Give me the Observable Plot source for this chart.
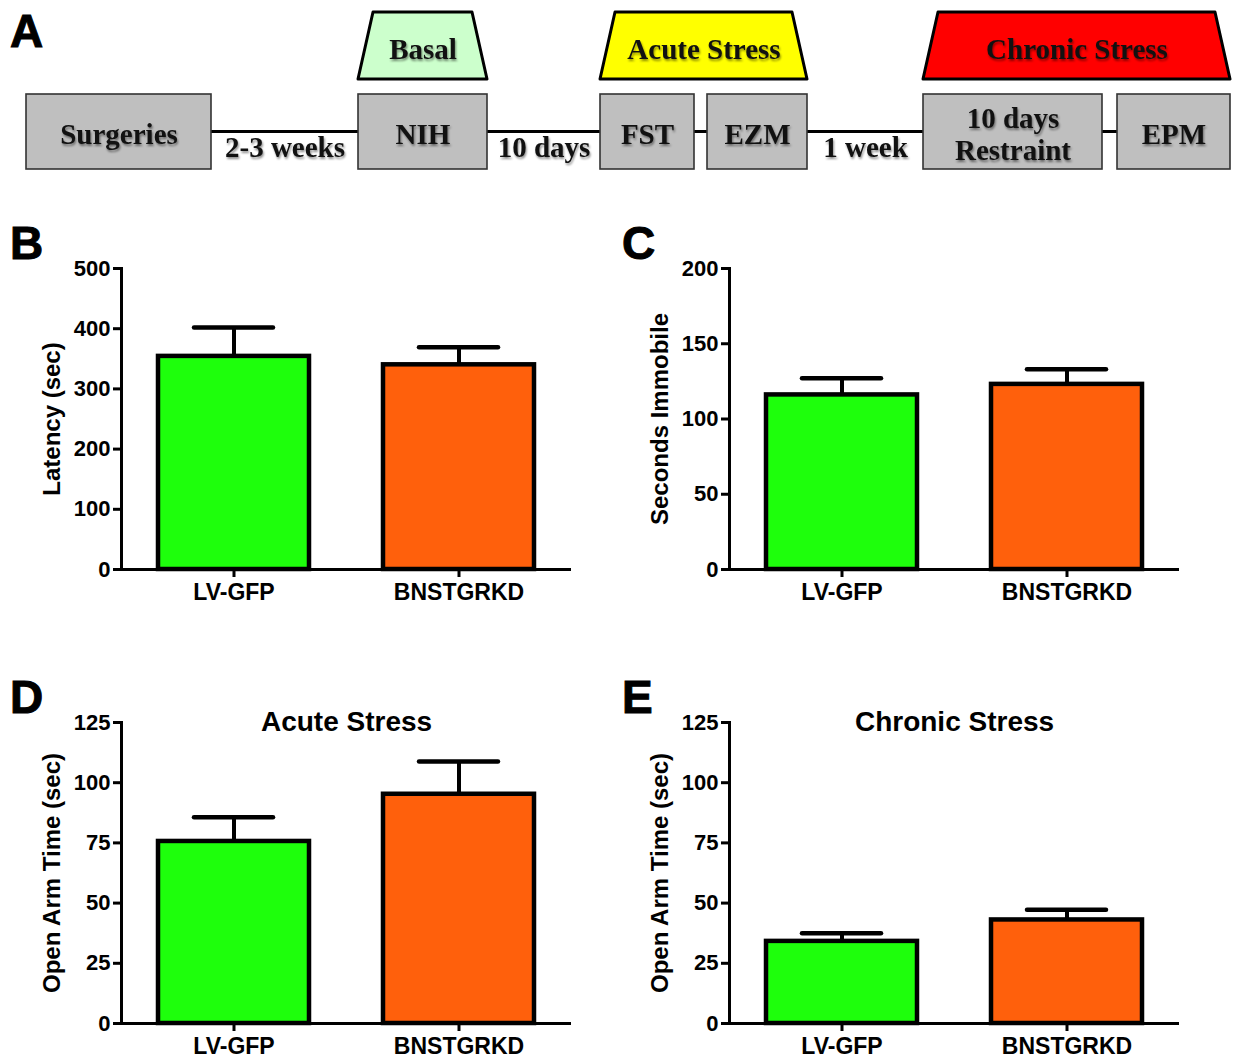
<!DOCTYPE html>
<html><head><meta charset="utf-8">
<script src="https://cdn.jsdelivr.net/npm/d3@7"></script>
<script src="https://cdn.jsdelivr.net/npm/@observablehq/plot@0.6"></script>
<style>
html,body{margin:0;padding:0;background:#fff;}
#root{position:relative;width:1238px;height:1059px;overflow:hidden;}
.panel{position:absolute;}
.letter{position:absolute;font:bold 46px/1 "Liberation Sans",Arial,sans-serif;color:#000;-webkit-text-stroke:1px #000;}
#panelA text{filter:drop-shadow(1.5px 2px 1.2px rgba(0,0,0,0.45));}
</style></head><body><div id="root"></div>
<script>
// ---------- Panel A: experimental timeline (timeline coordinates) ----------
const stageNames = ["Surgeries", "NIH", "FST", "EZM", "10 days\nRestraint", "EPM"];
const stageStart = [26, 358, 600, 707, 923, 1117];
const stageEnd   = [211, 487, 694, 807, 1102, 1230];
const gapLabels  = ["2-3 weeks", "10 days", "", "1 week", ""];
const phaseNames = ["Basal", "Acute Stress", "Chronic Stress"];
const phaseFirstStage = [1, 2, 4];
const phaseLastStage  = [1, 3, 5];

// ---------- Panels B–E ----------
const groups = ["LV-GFP", "BNSTGRKD"];
const latencyMean  = [354, 340];   const latencySem  = [48, 29];
const immobileMean = [116, 123];   const immobileSem = [11, 10];
const acuteMean    = [75.6, 95.2]; const acuteSem    = [10.1, 13.6];
const chronicMean  = [34.1, 43.0]; const chronicSem  = [3.4, 4.2];
const latencyTicks  = [0, 100, 200, 300, 400, 500];
const immobileTicks = [0, 50, 100, 150, 200];
const openArmTicks  = [0, 25, 50, 75, 100, 125];

// ---------- styles ----------
const groupColors = ["#1eff0c", "#ff600c"];
const phaseColors = ["#ccffcc", "#ffff00", "#ff0000"];
const A = {boxTop: 94, boxBottom: 169, lineY: 131, stageTextY: 133, gapTextY: 147,
           trapTop: 12, trapBottom: 79, trapSlant: 15, phaseTextY: 49};

const root = document.getElementById("root");
function place(node, left, top, id) {
  const d = document.createElement("div");
  d.className = "panel"; d.style.left = left + "px"; d.style.top = top + "px";
  if (id) d.id = id;
  d.appendChild(node); root.appendChild(d);
}
function letter(t, left, top) {
  const d = document.createElement("div");
  d.className = "letter"; d.textContent = t;
  d.style.left = left + "px"; d.style.top = top + "px";
  root.appendChild(d);
}

// ---- Panel A ----
const stageIdx = d3.range(stageNames.length);
const gapIdx = d3.range(gapLabels.length);
const trapPts = phaseNames.flatMap((p, k) => {
  const x0 = stageStart[phaseFirstStage[k]], x1 = stageEnd[phaseLastStage[k]];
  return [
    {p: k, x: x0, y: A.trapBottom},
    {p: k, x: x0 + A.trapSlant, y: A.trapTop},
    {p: k, x: x1 - A.trapSlant, y: A.trapTop},
    {p: k, x: x1, y: A.trapBottom}
  ];
});
const panelA = Plot.plot({
  width: 1238, height: 180, margin: 0,
  x: {domain: [0, 1238], range: [0, 1238], axis: null},
  y: {domain: [0, 180], range: [0, 180], axis: null},
  color: {type: "identity"},
  style: {fontFamily: "'Liberation Serif','Times New Roman',serif", fontWeight: "bold",
          fontSize: "29px", background: "transparent", overflow: "visible", color: "black"},
  marks: [
    Plot.ruleY(gapIdx, {x1: i => stageEnd[i], x2: i => stageStart[i + 1], y: () => A.lineY, strokeWidth: 3}),
    Plot.rect(stageIdx, {x1: i => stageStart[i], x2: i => stageEnd[i], y1: () => A.boxTop, y2: () => A.boxBottom,
      fill: "#bfbfbf", stroke: "#333", strokeWidth: 1.6}),
    Plot.text(stageIdx, {x: i => (stageStart[i] + stageEnd[i]) / 2, y: () => A.stageTextY,
      text: i => stageNames[i], lineHeight: 1.1, fill: "#111"}),
    Plot.text(gapIdx.filter(i => gapLabels[i]), {x: i => (stageEnd[i] + stageStart[i + 1]) / 2, y: () => A.gapTextY,
      text: i => gapLabels[i], fill: "#111"}),
    Plot.areaY(trapPts, {x: "x", y1: () => A.trapBottom, y2: "y", z: "p", fill: d => phaseColors[d.p],
      stroke: "black", strokeWidth: 3, strokeLinejoin: "round"}),
    Plot.text(d3.range(phaseNames.length), {
      x: k => (stageStart[phaseFirstStage[k]] + stageEnd[phaseLastStage[k]]) / 2, y: () => A.phaseTextY,
      text: k => phaseNames[k], fill: "#111"})
  ]
});
place(panelA, 0, 0, "panelA");
letter("A", 10, 8);

// ---- Bar panels ----
function barPanel({means, sems, ticks, label, title, height}) {
  const data = groups.map((g, i) => ({group: g, mean: means[i], top: means[i] + sems[i], color: groupColors[i]}));
  return Plot.plot({
    width: 600, height, marginLeft: 121, marginRight: 29, marginTop: 53, marginBottom: height - 354,
    x: {domain: groups, paddingInner: 0.33, paddingOuter: 0.165},
    y: {domain: [ticks[0], ticks[ticks.length - 1]]},
    color: {type: "identity"},
    style: {fontFamily: "'Liberation Sans',Arial,sans-serif", fontWeight: "bold", fontSize: "22px",
            background: "transparent", overflow: "visible", color: "black"},
    marks: [
      Plot.ruleX(data, {x: "group", y1: "mean", y2: "top", strokeWidth: 4}),
      Plot.tickY(data, {x: "group", y: "top", strokeWidth: 4.5, insetLeft: 36, insetRight: 36, strokeLinecap: "round"}),
      Plot.barY(data, {x: "group", y: "mean", fill: "color", stroke: "black", strokeWidth: 4.5}),
      Plot.ruleY([0], {strokeWidth: 3}),
      Plot.frame({anchor: "left", strokeWidth: 3}),
      Plot.axisY({ticks, tickSize: 8, tickPadding: 3, strokeWidth: 3, label: null, fontSize: 22}),
      Plot.axisX({tickSize: 8, tickPadding: 6, strokeWidth: 3, label: null, fontSize: 23}),
      Plot.text([label], {frameAnchor: "left", textAnchor: "middle", lineAnchor: "middle", rotate: -90, dx: -69, fontSize: 24}),
      title ? Plot.text([title], {frameAnchor: "top", lineAnchor: "middle", fontSize: 28}) : null
    ]
  });
}

place(barPanel({means: latencyMean, sems: latencySem, ticks: latencyTicks, label: "Latency (sec)", height: 395}), 0, 215);
letter("B", 10, 220);
place(barPanel({means: immobileMean, sems: immobileSem, ticks: immobileTicks, label: "Seconds Immobile", height: 395}), 608, 215);
letter("C", 622, 220);
place(barPanel({means: acuteMean, sems: acuteSem, ticks: openArmTicks, label: "Open Arm Time (sec)", title: "Acute Stress", height: 390}), 0, 669);
letter("D", 10, 674);
place(barPanel({means: chronicMean, sems: chronicSem, ticks: openArmTicks, label: "Open Arm Time (sec)", title: "Chronic Stress", height: 390}), 608, 669);
letter("E", 622, 674);
</script></body></html>
